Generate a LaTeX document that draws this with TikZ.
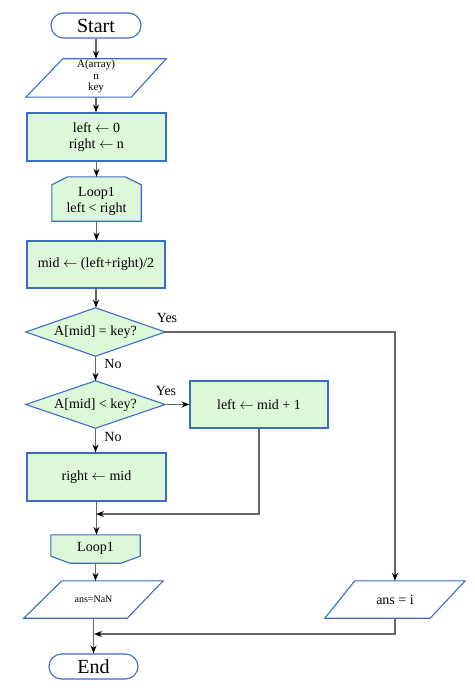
\documentclass[tikz,border=0pt]{standalone}
\usepackage{fontspec}
\setmainfont{Liberation Serif}
\usetikzlibrary{arrows.meta}
\definecolor{bblue}{HTML}{3A6CC8}
\definecolor{gfill}{HTML}{DDF7D9}
\definecolor{lgray}{HTML}{666666}
\newcommand{\la}{\ensuremath{\leftarrow}}
\tikzset{
  box/.style={rectangle, draw=bblue, fill=gfill, line width=1.1pt, align=center, inner sep=0pt, font=\fontsize{14}{16}\selectfont},
  ghost/.style={rectangle, draw=none, align=center, inner sep=0pt, font=\fontsize{14}{16}\selectfont},
  outl/.style={draw=bblue, line width=1.1pt, line join=miter},
  outlf/.style={draw=bblue, fill=gfill, line width=1.1pt, line join=miter},
  conn/.style={draw=lgray, line width=1.1pt},
  arr/.style={conn, -{Stealth[length=8pt,width=6pt,color=black]}},
  lbl/.style={font=\fontsize{14}{16}\selectfont, inner sep=0pt}
}
\begin{document}
\begin{tikzpicture}[x=1pt,y=-1pt]
\useasboundingbox (0,0) rectangle (474,695);
% Start
\node[rectangle, draw=bblue, fill=white, line width=1.1pt, rounded corners=12.5pt, minimum width=90pt, minimum height=25pt, inner sep=0pt, font=\fontsize{20}{22}\selectfont] (start) at (96,25.5) {Start};
% input parallelogram
\node[ghost, minimum width=140pt, minimum height=38pt] (in1) at (96,78) {};
\draw[outl] ([xshift=37pt]in1.north west) -- (in1.north east) -- ([xshift=-35pt]in1.south east) -- (in1.south west) -- cycle;
\node[font=\fontsize{11}{11.7}\selectfont, align=center, inner sep=0pt] at (96,76.5) {A(array)\\n\\key};
% init
\node[box, minimum width=139pt, minimum height=48pt] (init) at (96.5,137) {left \la{} 0\\right \la{} n};
% loop start
\node[ghost, minimum width=89pt, minimum height=44pt] (loop) at (96.5,199) {};
\draw[outlf] ([xshift=16pt]loop.north west) -- ([xshift=-16pt]loop.north east) -- ([yshift=-8pt]loop.north east) -- (loop.south east) -- (loop.south west) -- ([yshift=-8pt]loop.north west) -- cycle;
\node[lbl, align=center] at (96.5,201) {Loop1\\left < right};
% mid
\node[box, minimum width=138pt, minimum height=47pt] (mid) at (96,264.5) {mid \la{} (left+right)/2};
% diamond 1
\node[ghost, minimum width=139pt, minimum height=48pt] (d1) at (95.5,332) {};
\draw[outlf] (d1.west) -- (d1.north) -- (d1.east) -- (d1.south) -- cycle;
\node[lbl] at (95.5,332.5) {A[mid] = key?};
% diamond 2
\node[ghost, minimum width=139pt, minimum height=47pt] (d2) at (95.5,404.5) {};
\draw[outlf] (d2.west) -- (d2.north) -- (d2.east) -- (d2.south) -- cycle;
\node[lbl] at (95.5,405) {A[mid] < key?};
% left <- mid + 1
\node[box, minimum width=138pt, minimum height=47pt] (lft) at (259,404.5) {left \la{} mid + 1};
% right <- mid
\node[box, minimum width=139pt, minimum height=48pt] (rgt) at (96.5,477) {right \la{} mid};
% loop end
\node[ghost, minimum width=89pt, minimum height=28pt] (loopend) at (95.5,549) {};
\draw[outlf] (loopend.north west) -- (loopend.north east) -- ([yshift=7pt]loopend.south east) -- ([xshift=-19pt]loopend.south east) -- ([xshift=19pt]loopend.south west) -- ([yshift=7pt]loopend.south west) -- cycle;
\node[lbl] at (95.5,548) {Loop1};
% ans=NaN
\node[ghost, minimum width=139pt, minimum height=37pt] (nan) at (93.5,599.5) {};
\draw[outl] ([xshift=38pt]nan.north west) -- (nan.north east) -- ([xshift=-36pt]nan.south east) -- (nan.south west) -- cycle;
\node[font=\fontsize{10}{12}\selectfont, inner sep=0pt] at (93.5,599.5) {ans=NaN};
% ans = i
\node[ghost, minimum width=140pt, minimum height=37pt] (ansi) at (395,599.5) {};
\draw[outl] ([xshift=30pt]ansi.north west) -- (ansi.north east) -- ([xshift=-35pt]ansi.south east) -- (ansi.south west) -- cycle;
\node[lbl] at (395,600) {ans = i};
% End
\node[rectangle, draw=bblue, fill=white, line width=1.1pt, rounded corners=12.5pt, minimum width=89pt, minimum height=25pt, inner sep=0pt, font=\fontsize{20}{22}\selectfont] (end) at (93.5,666.5) {End};
% merge coordinates
\coordinate (m1) at (96,514);
\coordinate (m2) at (94,634);
\coordinate (c1) at (395,332);
% connectors
\draw[arr] (start.south) -- (start.south |- in1.north);
\draw[arr] (in1.south) -- (in1.south |- init.north);
\draw[arr] (init.south) -- (init.south |- loop.north);
\draw[arr] (loop.south) -- (loop.south |- mid.north);
\draw[arr] (mid.south) -- (mid.south |- d1.north);
\draw[arr] (d1.south) -- (d1.south |- d2.north);
\draw[arr] (d2.east) -- (lft.west);
\draw[arr] (d2.south) -- (d2.south |- rgt.north);
\draw[arr] (rgt.south) -- (rgt.south |- loopend.north);
\draw[arr] (lft.south) |- (m1);
\draw[arr] (loopend.south) -- (loopend.south |- nan.north);
\draw[arr] (nan.south) -- (nan.south |- end.north);
\draw[arr] (ansi.south) |- (m2);
\draw[arr] (d1.east) -- (c1) -- (ansi.north);
% labels
\node[lbl] at (167,318) {Yes};
\node[lbl] at (113,363.5) {No};
\node[lbl] at (166,391) {Yes};
\node[lbl] at (113,436.5) {No};
\end{tikzpicture}
\end{document}
